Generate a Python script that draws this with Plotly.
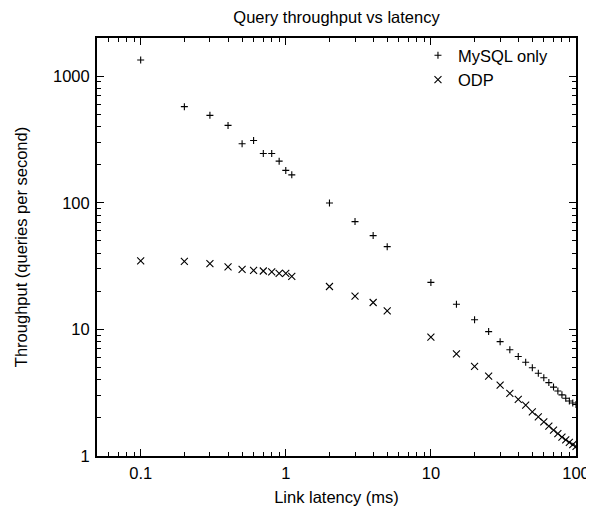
import plotly.graph_objects as go

latency = [0.1, 0.2, 0.3, 0.4, 0.5, 0.6, 0.7, 0.8, 0.9, 1.0, 1.1,
           2, 3, 4, 5, 10, 15, 20, 25, 30, 35, 40, 45, 50, 55, 60,
           65, 70, 75, 80, 85, 90, 95, 100]

mysql_only = [1340, 574, 490, 408, 292, 310, 245, 245, 213, 180, 166,
              99.6, 71, 55, 45, 23.5, 15.8, 11.9, 9.6, 8.0, 6.9, 6.1,
              5.5, 4.98, 4.5, 4.15, 3.8, 3.5, 3.26, 3.04, 2.86, 2.72, 2.62, 2.55]

odp = [34.8, 34.4, 33.0, 31.2, 29.8, 29.2, 28.9, 28.5, 27.7, 27.7, 26.2,
       21.8, 18.3, 16.3, 14.0, 8.7, 6.4, 5.1, 4.27, 3.63, 3.12, 2.80,
       2.52, 2.23, 2.04, 1.86, 1.72, 1.60, 1.50, 1.41, 1.34, 1.28, 1.23, 1.19]

x_ticks = [0.1, 1, 10, 100]
x_labels = ["0.1", "1", "10", "100"]
y_ticks = [1, 10, 100, 1000]
y_labels = ["1", "10", "100", "1000"]

FONT = "Liberation Sans, Arial, Helvetica, sans-serif"
FS = 16.5

fig = go.Figure()
fig.add_trace(go.Scatter(
    x=latency, y=mysql_only, mode="markers", name="MySQL only",
    marker=dict(symbol="cross-thin", size=5, color="black",
                line=dict(color="black", width=1.1)),
))
fig.add_trace(go.Scatter(
    x=latency, y=odp, mode="markers", name="ODP",
    marker=dict(symbol="x-thin", size=7, color="black",
                line=dict(color="black", width=1.1)),
))

axis_common = dict(
    type="log", showgrid=False, zeroline=False, automargin=False,
    showline=True, linecolor="black", linewidth=2, mirror="ticks",
    ticks="inside", ticklen=7, tickwidth=1, tickcolor="black",
    minor=dict(ticks="inside", ticklen=4, tickwidth=1, tickcolor="black",
               dtick="D1", showgrid=False),
    tickfont=dict(family=FONT, size=FS, color="black"),
    ticklabeloverflow="allow",
)

# The page body adds an 8px offset, so the figure is 8px smaller and margins shifted.
fig.update_layout(
    width=586, height=500,
    margin=dict(l=89, r=18, t=30, b=52),
    paper_bgcolor="white", plot_bgcolor="white",
    font=dict(family=FONT, size=FS, color="black"),
    title=dict(text="Query throughput vs latency", xref="paper", x=0.5,
               xanchor="center", yref="container", y=0.982, yanchor="middle",
               font=dict(family=FONT, size=FS, color="black")),
    xaxis=dict(axis_common, range=[-1.301, 2], tickvals=x_ticks, ticktext=x_labels,
               ticklabelstandoff=1,
               title=dict(text="Link latency (ms)", standoff=11,
                          font=dict(family=FONT, size=FS))),
    yaxis=dict(axis_common, range=[0, 3.301], tickvals=y_ticks, ticktext=y_labels,
               ticklabelstandoff=2,
               title=dict(text="Throughput (queries per second)", standoff=21,
                          font=dict(family=FONT, size=FS))),
    legend=dict(x=0.954, y=1.0, xanchor="right", yanchor="top",
                bgcolor="rgba(0,0,0,0)", font=dict(family=FONT, size=FS),
                tracegroupgap=0, itemwidth=30),
    showlegend=True,
)

fig.write_html("out.html")
